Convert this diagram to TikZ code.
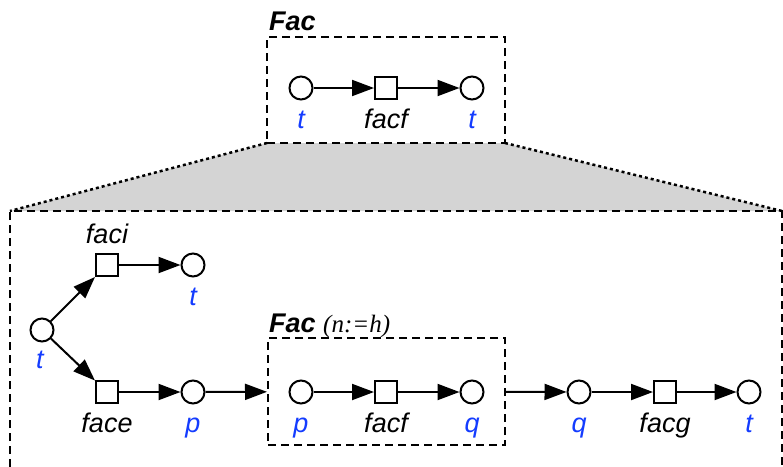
\documentclass[tikz,border=0pt]{standalone}
\usepackage{fontspec}
\setmainfont{Liberation Sans}
\newfontfamily\serifit{Liberation Serif}
\usetikzlibrary{arrows.meta}
\definecolor{lblue}{RGB}{20,60,255}
\definecolor{trapgray}{RGB}{212,212,212}
\tikzset{
  place/.style={circle,draw,line width=2pt,minimum size=23pt,inner sep=0pt,fill=white},
  trans/.style={rectangle,draw,line width=2pt,minimum size=22pt,inner sep=0pt,fill=white},
  arc/.style={line width=2pt,-{Triangle[length=22pt,width=16pt]}},
  dbox/.style={rectangle,draw,line width=2pt,dash pattern=on 8pt off 5pt,inner sep=0pt},
  dline/.style={line width=2pt,dash pattern=on 8pt off 5pt},
  dotline/.style={line width=2.5pt,dash pattern=on 3pt off 3pt},
  blbl/.style={anchor=base,text=lblue,font=\fontsize{27}{31}\selectfont\itshape,inner sep=0pt},
  klbl/.style={anchor=base,text=black,font=\fontsize{27}{31}\selectfont\itshape,inner sep=0pt},
  title/.style={anchor=base west,font=\fontsize{27}{31}\selectfont\bfseries\itshape,inner sep=0pt},
}
\begin{document}
\begin{tikzpicture}[x=1pt,y=-1pt]
\useasboundingbox (0,0) rectangle (783,466);
% trapezoid
\fill[trapgray] (267,143) -- (505,143) -- (782,211) -- (10,211) -- cycle;
\draw[dotline] (267,143) -- (10,211);
\draw[dotline] (505,143) -- (782,211);
% big box
\draw[dline] (10,480) -- (10,211) -- (782,211) -- (782,480);
% top box
\node[dbox,minimum width=238pt,minimum height=106pt] (topbox) at (386,90) {};
\node[title] (toptitle) at (269,30) {Fac};
\node[place] (t1) at (301,88) {};
\node[trans] (f1) at (386,88) {};
\node[place] (t2) at (472,88) {};
\draw[arc] (t1) -- (f1);
\draw[arc] (f1) -- (t2);
\node[blbl] (lt1) at (301,128) {t};
\node[klbl] (lf1) at (386,128) {facf};
\node[blbl] (lt2) at (472,128) {t};
% bottom
\node[place] (t0) at (42,330) {};
\node[blbl] (lt0) at (40,368) {t};
\node[trans] (fi) at (107,265) {};
\node[klbl] (lfi) at (107,243) {faci};
\node[place] (ti) at (193,265) {};
\node[blbl] (lti) at (193,305) {t};
\node[trans] (fe) at (107,392) {};
\node[klbl] (lfe) at (107,432) {face};
\node[place] (p1) at (193,392) {};
\node[blbl] (lp1) at (193,432) {p};
\draw[arc] (t0) -- (fi);
\draw[arc] (t0) -- (fe);
\draw[arc] (fi) -- (ti);
\draw[arc] (fe) -- (p1);
% inner box
\node[dbox,minimum width=237pt,minimum height=107pt] (inner) at (386.5,391.5) {};
\node[title] (intitle) at (269,332) {Fac {\mdseries\serifit\fontsize{25}{29}\selectfont (n:=h)}};
\node[place] (p2) at (301,392) {};
\node[trans] (f2) at (386,392) {};
\node[place] (q2) at (472,392) {};
\draw[arc] (p2) -- (f2);
\draw[arc] (f2) -- (q2);
\node[blbl] (lp2) at (301,432) {p};
\node[klbl] (lf2) at (386,432) {facf};
\node[blbl] (lq2) at (472,432) {q};
\draw[arc] (p1) -- (inner);
% right part
\node[place] (q3) at (579,392) {};
\node[trans] (fg) at (665,392) {};
\node[place] (t3) at (749,392) {};
\draw[arc] (inner) -- (q3);
\draw[arc] (q3) -- (fg);
\draw[arc] (fg) -- (t3);
\node[blbl] (lq3) at (579,432) {q};
\node[klbl] (lfg) at (665,432) {facg};
\node[blbl] (lt3) at (749,432) {t};
\end{tikzpicture}
\end{document}
